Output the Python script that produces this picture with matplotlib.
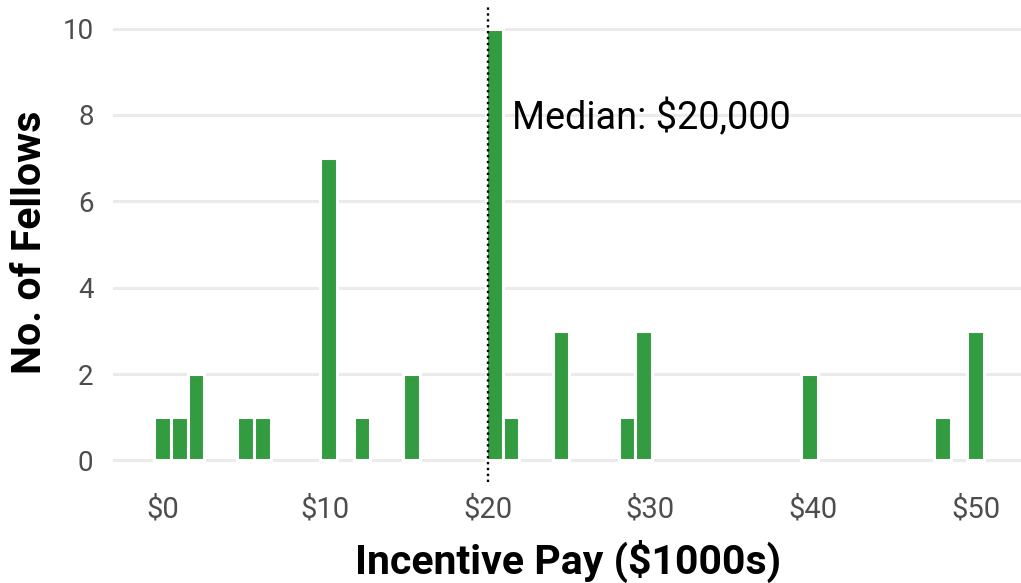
import numpy as np
import matplotlib
matplotlib.use("Agg")
import matplotlib.pyplot as plt
from matplotlib.ticker import FuncFormatter

plt.rcParams['font.family'] = ['Roboto', 'DejaVu Sans']

# Data: incentive pay in $1000s and number of fellows at each value
pay_values = [0, 1, 2, 5, 6, 10, 12, 15, 20, 21, 24, 29, 30, 40, 48, 50]
fellow_counts = [1, 1, 2, 1, 1, 7, 1, 2, 10, 1, 3, 1, 3, 2, 1, 3]
x_ticks = [0, 10, 20, 30, 40, 50]
y_ticks = [0, 2, 4, 6, 8, 10]

data = np.repeat(pay_values, fellow_counts)
n_bins = 50
lo, hi = data.min(), data.max()
bw = (hi - lo) / (n_bins - 1)
edges = lo - bw / 2 + bw * np.arange(n_bins + 1)
counts, _ = np.histogram(data, bins=edges)
median = np.median(data)

fig = plt.figure(figsize=(10.21, 5.83), dpi=100)
ax = fig.add_axes([113 / 1021, 101 / 583, 908 / 1021, 475 / 583])

nz = counts > 0
ax.bar(edges[:-1][nz], counts[nz], width=bw, align='edge',
       color='#339c41', edgecolor='white', linewidth=2.2, zorder=2)

ax.axvline(median, color='black', linestyle=(0, (1, 1.5)), linewidth=1.7, zorder=3)
ax.text(median + 1.5, 7.67, f"Median: ${median * 1000:,.0f}", ha='left', va='baseline',
        fontsize=27.3, color='black', zorder=4)

ax.set_xlim(lo - bw / 2 - 0.05 * (hi - lo + bw), 52.8)
ax.set_ylim(-0.5, 10.5)
ax.set_xticks(x_ticks)
ax.set_yticks(y_ticks)
ax.xaxis.set_major_formatter(FuncFormatter(lambda v, p: f"${v:.0f}"))
ax.tick_params(axis='both', length=0, labelsize=20, labelcolor='#4D4D4D')
ax.tick_params(axis='x', pad=10, labelsize=21)
ax.tick_params(axis='y', pad=14)

ax.yaxis.grid(True, color='#EBEBEB', linewidth=2.2, zorder=0)
ax.xaxis.grid(False)
ax.set_axisbelow(True)
for s in ax.spines.values():
    s.set_visible(False)

ax.text(0.5017, (482 - 574) / 475, "Incentive Pay ($1000s)", transform=ax.transAxes,
        ha='center', va='baseline', fontsize=29.5, fontweight='bold', color='black')
ax.text((41 - 113) / 908, (482 - 242.5) / 475, "No. of Fellows", transform=ax.transAxes,
        rotation=90, rotation_mode='anchor', ha='center', va='baseline',
        fontsize=29.5, fontweight='bold', color='black')

fig.savefig("out.png", dpi=100)
